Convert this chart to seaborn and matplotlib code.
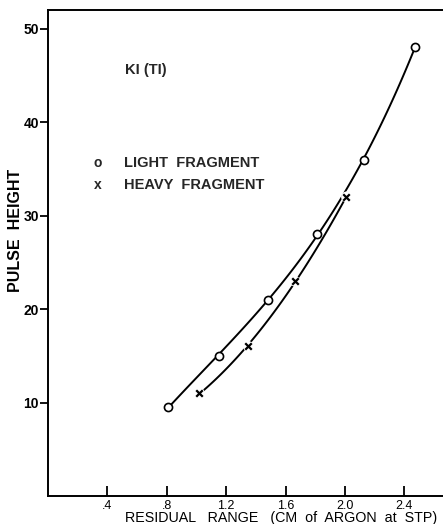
import matplotlib
matplotlib.use("Agg")
import matplotlib.pyplot as plt
import seaborn as sns
import numpy as np
import pandas as pd

# Data
light_x = [0.81, 1.15, 1.48, 1.81, 2.13, 2.47]
light_y = [9.5, 15.0, 21.0, 28.0, 36.0, 48.0]
heavy_x = [1.02, 1.35, 1.66, 2.01]
heavy_y = [11.0, 16.0, 23.0, 32.0]
x_ticks = [0.4, 0.8, 1.2, 1.6, 2.0, 2.4]
x_tick_labels = [".4", ".8", "1.2", "1.6", "2.0", "2.4"]
y_ticks = [10, 20, 30, 40, 50]
y_tick_labels = ["10", "20", "30", "40", "50"]

light = pd.DataFrame({"x": light_x, "y": light_y})
heavy = pd.DataFrame({"x": heavy_x, "y": heavy_y})

sns.set_theme(style="ticks")
plt.rcParams["font.family"] = ["Liberation Sans", "DejaVu Sans"]

fig = plt.figure(figsize=(4.43, 5.24), dpi=100)
ax = fig.add_axes([48 / 443, 28 / 524, 1 - 48 / 443, (496 - 10) / 524])

line_kws = dict(color="black", linewidth=1.4)
sns.regplot(data=light, x="x", y="y", order=3, ci=None, scatter=False,
            line_kws=line_kws, ax=ax)
sns.regplot(data=heavy, x="x", y="y", order=2, ci=None, scatter=False,
            line_kws=line_kws, ax=ax)

# markers
sns.scatterplot(data=light, x="x", y="y", marker="o", s=34, color="white",
                edgecolor="black", linewidth=1.2, ax=ax, zorder=5)
sns.scatterplot(data=heavy, x="x", y="y", marker="o", s=60, color="white",
                edgecolor="none", linewidth=0, ax=ax, zorder=4)
sns.scatterplot(data=heavy, x="x", y="y", marker="x", s=22, color="black",
                linewidth=1.6, ax=ax, zorder=6)

ax.set_xlim(0, 2.66)
ax.set_ylim(0, 52)
ax.set_xticks(x_ticks)
ax.set_xticklabels(x_tick_labels)
ax.set_yticks(y_ticks)
ax.set_yticklabels(y_tick_labels)

for s in ["left", "bottom", "top"]:
    ax.spines[s].set_linewidth(1.4)
    ax.spines[s].set_color("black")
ax.spines["right"].set_visible(False)

ax.tick_params(axis="x", direction="in", length=7, width=1.3, pad=3,
               labelsize=9, colors="black")
ax.tick_params(axis="y", direction="out", length=6, width=1.3, pad=0.5,
               labelsize=10, colors="black")
for lab in ax.get_yticklabels():
    lab.set_fontweight("bold")

ax.set_xlabel("RESIDUAL   RANGE   (CM  of  ARGON  at  STP)", fontsize=10.3,
              color="black")
ax.xaxis.set_label_coords(0.589, -0.031)
ax.set_ylabel("PULSE  HEIGHT", fontsize=11.5, color="black", fontweight="bold")
ax.yaxis.set_label_coords(-0.064, 0.547)

ax.text(0.52, 45.6, "KI (TI)", fontsize=10.5, va="center", ha="left",
        fontweight="bold")
ax.text(0.335, 35.6, "o", fontsize=10, va="center", ha="center",
        fontweight="bold")
ax.text(0.51, 35.6, "LIGHT  FRAGMENT", fontsize=10.5, va="center", ha="left",
        fontweight="bold")
ax.text(0.335, 33.3, "x", fontsize=10, va="center", ha="center",
        fontweight="bold")
ax.text(0.51, 33.3, "HEAVY  FRAGMENT", fontsize=10.5, va="center", ha="left",
        fontweight="bold")

fig.savefig("out.png", dpi=100, facecolor="white")
